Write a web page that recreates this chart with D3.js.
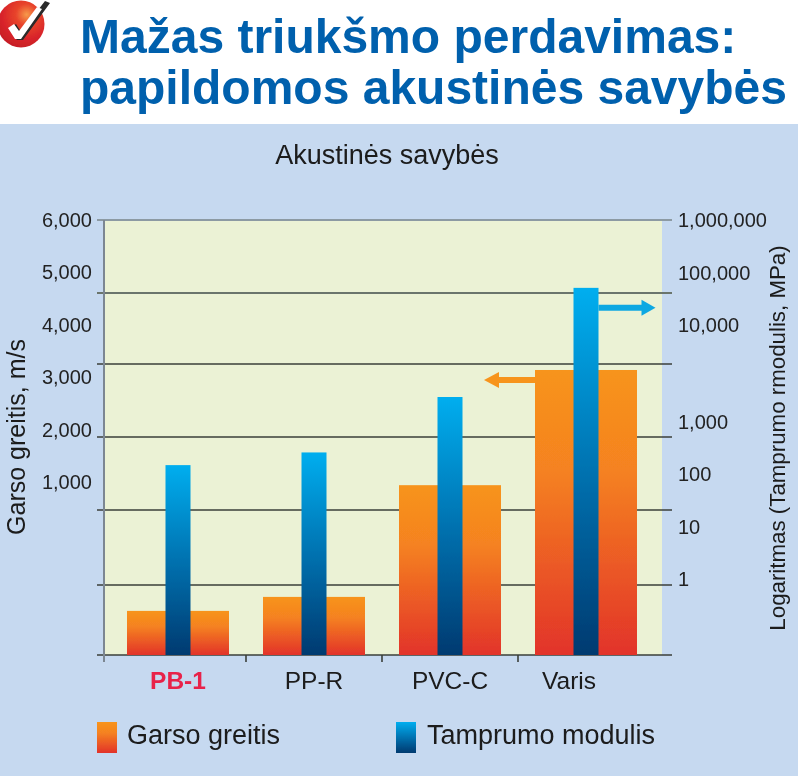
<!DOCTYPE html>
<html><head><meta charset="utf-8">
<script src="https://cdnjs.cloudflare.com/ajax/libs/d3/7.8.5/d3.min.js"></script>
<style>html,body{margin:0;padding:0;background:#fff}svg{display:block}text{font-family:"Liberation Sans",Arial,sans-serif}</style>
</head><body><div id="c"></div>
<script>
const titleLines = ["Mažas triukšmo perdavimas:", "papildomos akustinės savybės"];
const chartTitle = "Akustinės savybės";
const categories = ["PB-1", "PP-R", "PVC-C", "Varis"];
const soundSpeed = [630, 830, 2340, 3918];
const modulus = [150, 262, 1810, 51000];
const gridValues = [0, 1000, 2000, 3000, 4000, 5000, 6000];
const leftLabels = [1000, 2000, 3000, 4000, 5000, 6000];
const rightLabels = [1, 10, 100, 1000, 10000, 100000, 1000000];
const legendLabels = ["Garso greitis", "Tamprumo modulis"];

const W = 800, H = 778;
const plot = {l: 105, r: 662, t: 220, b: 655};
const svg = d3.select("#c").append("svg").attr("width", W).attr("height", H);
const defs = svg.append("defs");
function grad(id, stops){
  const g = defs.append("linearGradient").attr("id", id).attr("x1",0).attr("x2",0).attr("y1",0).attr("y2",1);
  stops.forEach(s => g.append("stop").attr("offset", s[0]).attr("stop-color", s[1]));
}
grad("gOrange", [[0,"#f7941d"],[0.35,"#f58220"],[1,"#e2332a"]]);
grad("gBlue", [[0,"#00aeef"],[0.5,"#0072b0"],[1,"#003a70"]]);
const rg = defs.append("radialGradient").attr("id","gLogo").attr("cx",0.62).attr("cy",0.3).attr("r",0.75);
[[0,"#f79a4a"],[0.3,"#e8452c"],[0.7,"#d8232a"],[1,"#c41e24"]].forEach(s=>rg.append("stop").attr("offset",s[0]).attr("stop-color",s[1]));
const blur = defs.append("filter").attr("id","soft").attr("x","-5%").attr("y","-5%").attr("width","110%").attr("height","110%");
blur.append("feGaussianBlur").attr("stdDeviation",0.45);

svg.append("rect").attr("x",0).attr("y",124).attr("width",798).attr("height",652).attr("fill","#c6d9f0");
const root = svg.append("g").attr("filter","url(#soft)");

const logo = root.append("g");
logo.append("circle").attr("cx",21).attr("cy",24).attr("r",23.5).attr("fill","url(#gLogo)");
logo.append("path").attr("d","M9 29 L16 24 L21 32 L45 1 L50 3 L23 40 L17 40 Z").attr("fill","#2a2a2a");
logo.append("path").attr("d","M8 28 L14 24 L19 31 L37 7 L42 9 L21 39 L15 39 Z").attr("fill","#fff");

root.selectAll(".t").data(titleLines).join("text").attr("class","t")
  .attr("x",80).attr("y",(d,i)=>53+i*51)
  .attr("font-size",48).attr("font-weight",700).attr("fill","#0460ad").text(d=>d);
root.append("text").attr("x",387).attr("y",164).attr("text-anchor","middle")
  .attr("font-size",27).attr("fill","#1a1a1a").text(chartTitle);

const x = d3.scaleBand().domain(categories).range([110,654]);
const yLeft = d3.scaleLinear().domain(gridValues).range([655,585,510,437,364,293,220]);
const yLeftLabel = d3.scaleLinear().domain([1000,6000]).range([482,220]);
const yRight = d3.scaleLog().domain([0.035,1,1000,10000,1000000]).range([plot.b,579,422,325,220]);

root.append("rect").attr("x",plot.l).attr("y",plot.t).attr("width",plot.r-plot.l).attr("height",plot.b-plot.t).attr("fill","#ebf2d5");

root.selectAll(".g").data(gridValues).join("line").attr("class","g")
  .attr("x1",97).attr("x2",672).attr("y1",d=>yLeft(d)).attr("y2",d=>yLeft(d))
  .attr("stroke",d=>d===6000?"#8c9aa3":d===5000?"#6a746c":"#3a3f3a")
  .attr("stroke-width",d=>d===6000||d===5000?2:1.6);
root.append("line").attr("x1",plot.l-1).attr("x2",plot.l-1).attr("y1",plot.t).attr("y2",plot.b+7).attr("stroke","#7b8792").attr("stroke-width",2);
root.selectAll(".xt").data(categories.slice(1)).join("line").attr("class","xt")
  .attr("x1",d=>x(d)).attr("x2",d=>x(d)).attr("y1",plot.b).attr("y2",plot.b+7).attr("stroke","#3a3f3a").attr("stroke-width",1.6);

const orangeW = 102, blueW = 25;
root.selectAll(".o").data(categories).join("rect").attr("class","o")
  .attr("x",d=>x(d)+x.bandwidth()/2-orangeW/2).attr("width",orangeW)
  .attr("y",(d,i)=>yLeft(soundSpeed[i])).attr("height",(d,i)=>plot.b-yLeft(soundSpeed[i]))
  .attr("fill","url(#gOrange)");
root.selectAll(".b").data(categories).join("rect").attr("class","b")
  .attr("x",d=>x(d)+x.bandwidth()/2-blueW/2).attr("width",blueW)
  .attr("y",(d,i)=>yRight(modulus[i])).attr("height",(d,i)=>plot.b-yRight(modulus[i]))
  .attr("fill","url(#gBlue)");

const vx = x("Varis")+x.bandwidth()/2;
const arrowY1 = yRight(modulus[3])+20, arrowY2 = yLeft(soundSpeed[3])+10;
root.append("path").attr("d",`M${vx+blueW/2} ${arrowY1-3}H${vx+blueW/2+43}V${arrowY1-8}L${vx+blueW/2+57} ${arrowY1}L${vx+blueW/2+43} ${arrowY1+8}V${arrowY1+3}H${vx+blueW/2}Z`).attr("fill","#0fa8e2");
root.append("path").attr("d",`M${vx-orangeW/2} ${arrowY2-3}H${vx-orangeW/2-36}V${arrowY2-8}L${vx-orangeW/2-51} ${arrowY2}L${vx-orangeW/2-36} ${arrowY2+8}V${arrowY2+3}H${vx-orangeW/2}Z`).attr("fill","#f7941d");

root.selectAll(".ll").data(leftLabels).join("text").attr("class","ll")
  .attr("x",92).attr("y",d=>yLeftLabel(d)+7).attr("text-anchor","end")
  .attr("font-size",20).attr("fill","#222").text(d=>d3.format(",")(d));
root.selectAll(".rl").data(rightLabels).join("text").attr("class","rl")
  .attr("x",678).attr("y",d=>yRight(d)+7).attr("font-size",20).attr("fill","#222").text(d=>d3.format(",")(d));
root.selectAll(".c").data(categories).join("text").attr("class","c")
  .attr("x",d=>x(d)+x.bandwidth()/2-(d==="Varis"?17:0)).attr("y",689).attr("text-anchor","middle").attr("font-size",24.5)
  .attr("font-weight",(d,i)=>i===0?700:400).attr("fill",(d,i)=>i===0?"#e8234a":"#1a1a1a").text(d=>d);

root.append("text").attr("transform","translate(25,437) rotate(-90)").attr("text-anchor","middle").attr("font-size",25).attr("fill","#1a1a1a").text("Garso greitis, m/s");
root.append("text").attr("transform","translate(785,438) rotate(-90)").attr("text-anchor","middle").attr("font-size",22.3).attr("fill","#1a1a1a").text("Logaritmas (Tamprumo rmodulis, MPa)");

const lx = [97, 396], gr = ["url(#gOrange)","url(#gBlue)"], tx=[127,427];
root.selectAll(".lg").data(legendLabels).join("rect").attr("class","lg")
  .attr("x",(d,i)=>lx[i]).attr("y",722).attr("width",20).attr("height",31).attr("fill",(d,i)=>gr[i]);
root.selectAll(".lt").data(legendLabels).join("text").attr("class","lt")
  .attr("x",(d,i)=>tx[i]).attr("y",744).attr("font-size",27).attr("fill","#1a1a1a").text(d=>d);
</script></body></html>
